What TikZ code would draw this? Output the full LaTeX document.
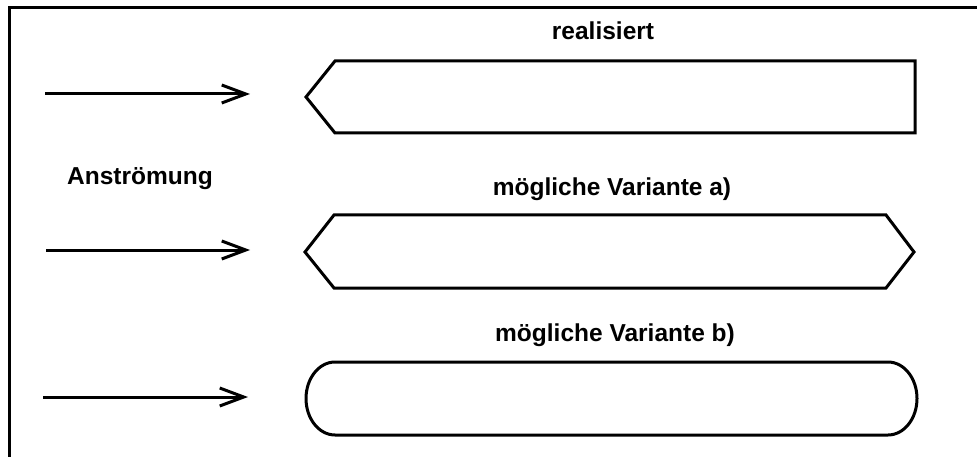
\documentclass[tikz,border=0pt]{standalone}
\usepackage{fontspec}
\setmainfont{Liberation Sans}
\usepackage{tikz}
\usetikzlibrary{arrows.meta, positioning}

\tikzstyle{outline} = [
  line width=3pt, draw=black, line join=miter
]
\tikzstyle{flow} = [
  -{Straight Barb[length=24pt, width=18pt, line width=3pt]},
  line width=3pt, color=black
]
\tikzstyle{caption} = [
  anchor=base, inner sep=0pt, font=\bfseries\fontsize{24.5}{28}\selectfont
]

\begin{document}
\begin{tikzpicture}[x=1pt, y=-1pt]

  \useasboundingbox (0,0) rectangle (977,457);

  % ── Frame ─────────────────────────────────────────────
  \draw[line width=3pt] (9,457) -- (9,8) -- (977,8);

  % ── Anströmung ────────────────────────────────────────
  \coordinate (in1) at (45,94);
  \coordinate (out1) at (250,94);
  \coordinate (in2) at (46,250);
  \coordinate (out2) at (250,250);
  \coordinate (in3) at (43,397);
  \coordinate (out3) at (248,397);
  \node[caption] (anstroemung) at (140,185) {Anströmung};

  \draw[flow] (in1) -- (out1);
  \draw[flow] (in2) -- (out2);
  \draw[flow] (in3) -- (out3);

  % ── realisiert ────────────────────────────────────────
  \node[caption] (realisiert) at (603,40) {realisiert};
  \draw[outline] (335,61) -- (915,61) -- (915,133) -- (335,133)
    -- (306,97) -- cycle;

  % ── Variante a) ───────────────────────────────────────
  \node[caption] (varianteA) at (612,196) {mögliche Variante a)};
  \draw[outline] (334,215) -- (886,215) -- (914,252) -- (886,288)
    -- (334,288) -- (305,252) -- cycle;

  % ── Variante b) ───────────────────────────────────────
  \node[caption] (varianteB) at (615,341) {mögliche Variante b)};
  \draw[outline] (335,362) -- (888,362)
    arc[start angle=90, end angle=-90, x radius=29, y radius=-36.5]
    -- (335,435)
    arc[start angle=-90, end angle=-270, x radius=29, y radius=-36.5]
    -- cycle;

\end{tikzpicture}
\end{document}
